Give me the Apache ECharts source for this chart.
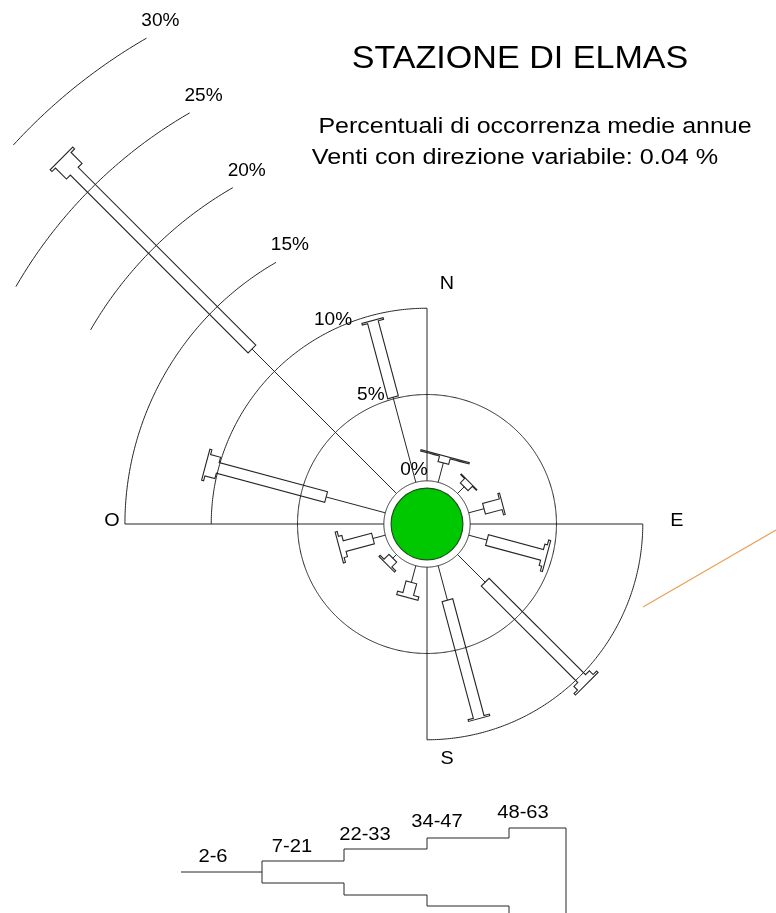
<!DOCTYPE html>
<html><head><meta charset="utf-8">
<script src="https://cdn.jsdelivr.net/npm/echarts@6/dist/echarts.min.js"></script>
<style>html,body{margin:0;padding:0;background:#fff}#c{width:776px;height:913px}</style>
</head><body><div id="c"></div>
<script>
// ---- data (percent of occurrence per speed class, per direction in degrees) ----
const directions = [15, 45, 75, 105, 135, 165, 195, 225, 255, 285, 315, 345];
const cls1 = [1.16, 0.55, 0.92, 1.10, 2.27, 2.07, 1.00, 0.30, 0.74, 3.55, 11.84, 5.10]; // 2-6
const cls2 = [0.33, 0.35, 1.00, 3.30, 7.90, 7.00, 0.70, 0.40, 1.70, 6.50, 14.56, 4.50]; // 7-21
const cls3 = [0.00, 0.05, 0.10, 0.15, 0.30, 0.10, 0.20, 0.10, 0.20, 0.60, 0.90, 0.10]; // 22-33
const cls4 = [0.00, 0.00, 0.00, 0.12, 0.12, 0.00, 0.00, 0.00, 0.12, 0.12, 0.15, 0.00]; // 34-47
const cls5 = [0.08, 0.00, 0.00, 0.00, 0.00, 0.00, 0.00, 0.00, 0.00, 0.00, 0.00, 0.00]; // 48-63
const classLabels = ['2-6', '7-21', '22-33', '34-47', '48-63'];
const ringValues = [0, 5, 10, 15, 20, 25, 30];
const ringLabels = ['0%', '5%', '10%', '15%', '20%', '25%', '30%'];
const cardinalNames = ['N', 'E', 'S', 'O'];
const cardinalAngles = [0, 90, 180, 270];
const titleText = 'STAZIONE DI ELMAS';
const subText1 = 'Percentuali di occorrenza medie annue';
const subText2 = 'Venti con direzione variabile: 0.04 %';

// ---- layout / style constants ----
const FONT = '"Liberation Sans", Arial, sans-serif';
const LINE = '#262626';
const R0 = -2.5;                          // radius value at the pole
const classWidths = [0, 11, 22, 32, 50];  // px widths of the bar for each class
const ringSpans = {0: [[0, 360]], 5: [[0, 360]], 10: [[270, 360], [90, 180]], 15: [[270, 330]], 20: [[300, 330]], 25: [[300, 330]], 30: [[312.5, 330]]};
const axisLen = [10, 10, 10, 15];
const cardOffset = [[20, -24], [34, -3], [20, 19], [-13, -3]];
const SX = 1.1; // horizontal stretch of the lettering

const chart = echarts.init(document.getElementById('c'), null, {renderer: 'canvas'});

function gridItem(params, api) {
  const ch = [];
  ringValues.forEach(function (v) {
    ringSpans[v].forEach(function (sp) {
      const pts = [];
      for (let a = sp[0]; a <= sp[1] + 1e-9; a += 0.5) pts.push(api.coord([v, a]));
      ch.push({type: 'polyline', shape: {points: pts}, style: {stroke: LINE, lineWidth: 1, fill: null}});
    });
  });
  cardinalAngles.forEach(function (a, i) {
    const p0 = api.coord([0, a]), p1 = api.coord([axisLen[i], a]);
    ch.push({type: 'line', shape: {x1: p0[0], y1: p0[1], x2: p1[0], y2: p1[1]}, style: {stroke: LINE, lineWidth: 1}});
    ch.push({type: 'text', x: p1[0] + cardOffset[i][0], y: p1[1] + cardOffset[i][1], scaleX: SX,
      style: {text: cardinalNames[i], fontSize: 18, fontFamily: FONT, fill: '#000', align: 'center', verticalAlign: 'middle'}});
  });
  ringValues.forEach(function (v, i) {
    const p = api.coord([v + 0.6, 330]);
    ch.push({type: 'text', x: p[0], y: p[1] + 1, scaleX: 1.06,
      style: {text: ringLabels[i], fontSize: 18, fontFamily: FONT, fill: '#000', align: 'left', verticalAlign: 'bottom'}});
  });
  const c = api.coord([R0, 0]);
  const pg = api.coord([-0.42, 0]);
  const rg = Math.hypot(pg[0] - c[0], pg[1] - c[1]);
  ch.push({type: 'circle', shape: {cx: c[0], cy: c[1], r: rg}, style: {fill: '#00c800', stroke: '#1f4f1f', lineWidth: 1.2}});
  return {type: 'group', children: ch};
}

function barItem(params, api) {
  const a = api.value(0);
  const vals = [api.value(1), api.value(2), api.value(3), api.value(4), api.value(5)];
  const c = api.coord([R0, a]);
  const p0 = api.coord([0, a]);
  let ux = p0[0] - c[0], uy = p0[1] - c[1];
  const L = Math.hypot(ux, uy); ux /= L; uy /= L;
  const nx = -uy, ny = ux;
  const ch = [];
  let r = vals[0];
  const p1 = api.coord([r, a]);
  ch.push({type: 'line', shape: {x1: p0[0], y1: p0[1], x2: p1[0], y2: p1[1]}, style: {stroke: LINE, lineWidth: 1}});
  let last = -1;
  for (let k = 1; k < 5; k++) if (vals[k] > 0) last = k;
  if (last > 0) {
    const left = [], right = [];
    for (let k = 1; k <= last; k++) {
      const hw = classWidths[k] / 2;
      const pa = api.coord([r, a]);
      r += vals[k];
      const pb = api.coord([r, a]);
      left.push([pa[0] + nx * hw, pa[1] + ny * hw], [pb[0] + nx * hw, pb[1] + ny * hw]);
      right.push([pa[0] - nx * hw, pa[1] - ny * hw], [pb[0] - nx * hw, pb[1] - ny * hw]);
    }
    ch.push({type: 'polygon', shape: {points: left.concat(right.reverse())}, style: {fill: null, stroke: LINE, lineWidth: 1.1}});
  }
  return {type: 'group', children: ch};
}

// legend (stepped key) built from the class labels
const legendX = [181, 262, 344, 427, 509, 566];
const legendY = 872;
const legendHalf = [0, 11, 23, 34, 44];
const legendLabelX = [213, 292, 365, 437, 523];
const legendLabelY = [857, 847, 835, 822, 813];
const legendGraphics = [];
(function () {
  const top = [[legendX[0], legendY], [legendX[1], legendY]];
  const bot = [[legendX[1], legendY]];
  for (let k = 1; k < 5; k++) {
    top.push([legendX[k], legendY - legendHalf[k]], [legendX[k + 1], legendY - legendHalf[k]]);
    bot.push([legendX[k], legendY + legendHalf[k]], [legendX[k + 1], legendY + legendHalf[k]]);
  }
  top.push([legendX[5], legendY + legendHalf[4]]);
  legendGraphics.push({type: 'polyline', shape: {points: top}, style: {stroke: LINE, lineWidth: 1, fill: null}});
  legendGraphics.push({type: 'polyline', shape: {points: bot}, style: {stroke: LINE, lineWidth: 1, fill: null}});
  classLabels.forEach(function (t, k) {
    legendGraphics.push({type: 'text', x: legendLabelX[k], y: legendLabelY[k], scaleX: 1.12,
      style: {text: t, fontSize: 18, fontFamily: FONT, fill: '#000', align: 'center', verticalAlign: 'middle'}});
  });
})();

const option = {
  animation: false,
  backgroundColor: '#fff',
  polar: {center: [427, 524], radius: 561},
  angleAxis: {type: 'value', min: 0, max: 360, startAngle: 90, clockwise: true, show: false},
  radiusAxis: {type: 'value', min: R0, max: 30, show: false},
  graphic: [
    {type: 'text', x: 520, y: 59, scaleX: 1.1, style: {text: titleText, fontSize: 31, fontFamily: FONT, fill: '#000', align: 'center', verticalAlign: 'middle'}},
    {type: 'text', x: 535, y: 127, scaleX: 1.11, style: {text: subText1, fontSize: 22.5, fontFamily: FONT, fill: '#000', align: 'center', verticalAlign: 'middle'}},
    {type: 'text', x: 515, y: 158, scaleX: 1.12, style: {text: subText2, fontSize: 22.5, fontFamily: FONT, fill: '#000', align: 'center', verticalAlign: 'middle'}},
    {type: 'line', shape: {x1: 643, y1: 607, x2: 776, y2: 530}, style: {stroke: '#e8a25a', lineWidth: 1.2}}
  ].concat(legendGraphics),
  series: [
    {type: 'custom', coordinateSystem: 'polar', renderItem: gridItem, data: [[0, 0]], silent: true, z: 1},
    {type: 'custom', coordinateSystem: 'polar', renderItem: barItem, silent: true, z: 2,
      data: directions.map(function (d, i) { return [d, cls1[i], cls2[i], cls3[i], cls4[i], cls5[i]]; })}
  ]
};
chart.setOption(option);
</script>
</body></html>
